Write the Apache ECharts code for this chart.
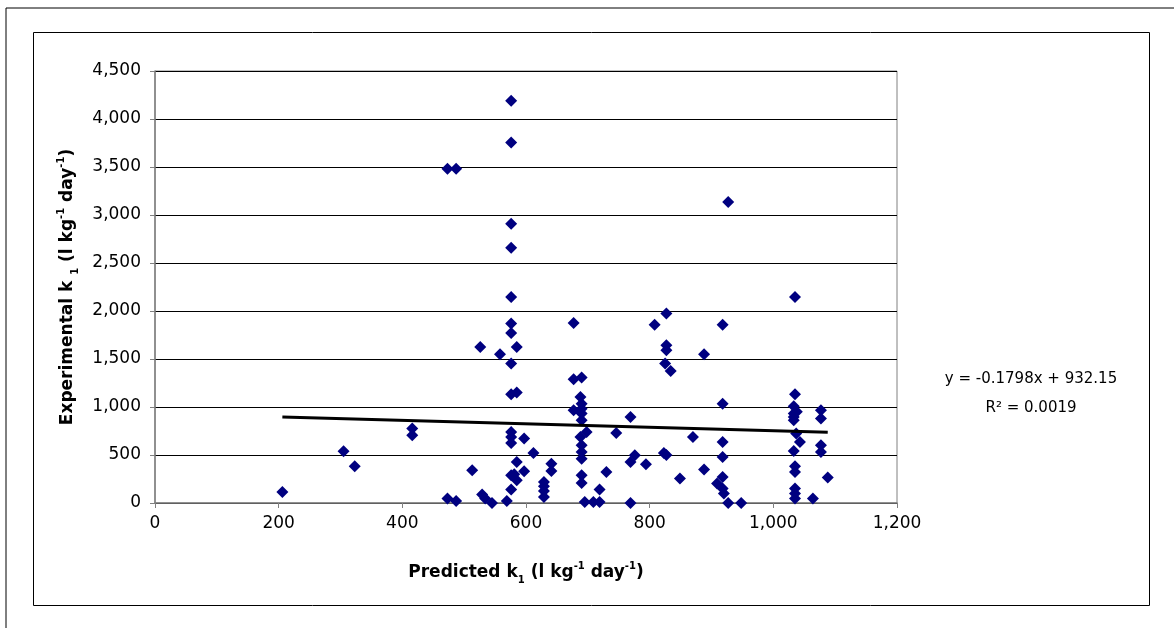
<!DOCTYPE html>
<html>
<head>
<meta charset="utf-8">
<script src="https://cdn.jsdelivr.net/npm/echarts@6/dist/echarts.min.js"></script>
<style>
html,body{margin:0;padding:0;background:#fff;}
#chart{width:1174px;height:628px;}
</style>
</head>
<body>
<div id="chart"></div>
<script>
// Predicted k1 values (x) and experimental k1 values (y)
const predicted = [
  206, 305, 323, 416, 416, 473, 487, 473, 487, 513,
  526, 558, 529, 534, 545, 569,
  576, 576, 576, 576, 576, 576, 576, 576, 576, 576, 576, 576, 576, 576,
  585, 585, 585, 585, 581, 597, 597, 612,
  629, 629, 629, 629, 641, 641,
  677, 677, 677,
  690, 688, 690, 690, 690, 690, 688, 698, 690, 690, 690, 690, 690,
  695, 709, 719, 719, 730, 746,
  769, 776, 769, 769, 794,
  808, 827, 827, 827, 825, 834, 823, 827, 849, 870,
  888, 888,
  918, 918, 918, 918, 918, 909, 918, 920,
  927, 927, 948,
  1035, 1035, 1033, 1038, 1033, 1033, 1033, 1037, 1043, 1033, 1035, 1035, 1035, 1035, 1035,
  1064, 1077, 1077, 1077, 1077, 1088
];
const experimental = [
  115, 539, 382, 775, 705, 3483, 3483, 46, 21, 340,
  1625, 1549, 88, 46, 0, 21,
  4191, 3754, 2910, 2660, 2146, 1869, 1771, 1452, 1132, 740, 688, 625, 289, 140,
  1625, 1150, 427, 236, 299, 671, 330, 521,
  219, 174, 125, 63, 410, 333,
  1288, 1875, 966,
  1306, 1104, 1035, 983, 931, 861, 688, 740, 601, 531, 462, 289, 208,
  10, 10, 10, 140, 323, 729,
  896, 497, 427, 0, 403,
  1858, 1973, 1643, 1591, 1452, 1375, 520, 500, 254, 688,
  1549, 348,
  1858, 1035, 635, 479, 271, 202, 150, 98,
  3135, 0, 0,
  2146, 1132, 1007, 950, 931, 896, 861, 723, 635, 542, 382, 323, 150, 98, 46,
  46, 966, 879, 601, 531, 265
];
// Trendline coefficients as printed on the chart
const slope = -0.1798;
const intercept = 932.15;
const equationText = 'y = -0.1798x + 932.15';
const r2Text = 'R\u00B2 = 0.0019';
const xTicks = {min: 0, max: 1200, interval: 200};
const yTicks = {min: 0, max: 4500, interval: 500};

const points = predicted.map((x, i) => [x, experimental[i]]);
const xMin = Math.min(...predicted), xMax = Math.max(...predicted);
const trend = [[xMin, slope * xMin + intercept], [xMax, slope * xMax + intercept]];

const FONT = '"DejaVu Sans", "Liberation Sans", Arial, sans-serif';
const titleRich = {
  b: {fontFamily: FONT, fontWeight: 'bold', fontSize: 17, color: '#000', lineHeight: 24},
  sup: {fontFamily: FONT, fontWeight: 'bold', fontSize: 10, color: '#000', lineHeight: 13, verticalAlign: 'top'},
  sub: {fontFamily: FONT, fontWeight: 'bold', fontSize: 10, color: '#000', lineHeight: 13, verticalAlign: 'bottom'}
};

const chart = echarts.init(document.getElementById('chart'), null, {renderer: 'canvas'});
chart.setOption({
  animation: false,
  backgroundColor: '#fff',
  grid: {left: 155, right: 277, top: 71, bottom: 125, show: true, borderColor: '#808080', borderWidth: 1},
  xAxis: {
    type: 'value', min: xTicks.min, max: xTicks.max, interval: xTicks.interval,
    axisLine: {show: true, onZero: false, lineStyle: {color: '#808080', width: 1.5}},
    axisTick: {show: true, inside: false, length: 5, lineStyle: {color: '#808080'}},
    splitLine: {show: false},
    axisLabel: {color: '#000', fontFamily: FONT, fontSize: 17, margin: 12,
      formatter: v => v.toLocaleString('en-US')},
    name: '{b|Predicted k}{sub|1}{b| (l kg}{sup|-1}{b| day}{sup|-1}{b|)}',
    nameLocation: 'middle', nameGap: 58,
    nameTextStyle: {rich: titleRich}
  },
  yAxis: {
    type: 'value', min: yTicks.min, max: yTicks.max, interval: yTicks.interval,
    axisLine: {show: true, lineStyle: {color: '#808080', width: 1.5}},
    axisTick: {show: true, inside: false, length: 5, lineStyle: {color: '#808080'}},
    splitLine: {show: true, lineStyle: {color: '#000', width: 1}},
    axisLabel: {color: '#000', fontFamily: FONT, fontSize: 17, margin: 14,
      formatter: v => v.toLocaleString('en-US')},
    name: '{b|Experimental k }{sub|1}{b| (l kg}{sup|-1}{b| day}{sup|-1}{b|)}',
    nameLocation: 'middle', nameGap: 75, nameRotate: 90,
    nameTextStyle: {rich: titleRich}
  },
  series: [
    {
      type: 'scatter', data: points, symbol: 'diamond', symbolSize: 12,
      itemStyle: {color: '#000080', opacity: 1}, z: 3
    },
    {
      type: 'line', data: trend, symbol: 'none', showSymbol: false,
      lineStyle: {color: '#000', width: 3}, z: 4
    }
  ],
  graphic: [
    {type: 'line', shape: {x1: 6, y1: 8, x2: 1174, y2: 8}, style: {stroke: '#000', lineWidth: 1}, silent: true},
    {type: 'line', shape: {x1: 6, y1: 8, x2: 6, y2: 628}, style: {stroke: '#000', lineWidth: 1}, silent: true},
    {type: 'rect', shape: {x: 33.5, y: 32.5, width: 1116, height: 573}, style: {fill: 'none', stroke: '#000', lineWidth: 1}, silent: true, z: -1},
    {type: 'text', x: 1031, y: 379, style: {text: equationText, font: '15px ' + FONT, fill: '#000', textAlign: 'center', textVerticalAlign: 'middle'}},
    {type: 'text', x: 1031, y: 408, style: {text: r2Text, font: '15px ' + FONT, fill: '#000', textAlign: 'center', textVerticalAlign: 'middle'}}
  ]
});
</script>
</body>
</html>
